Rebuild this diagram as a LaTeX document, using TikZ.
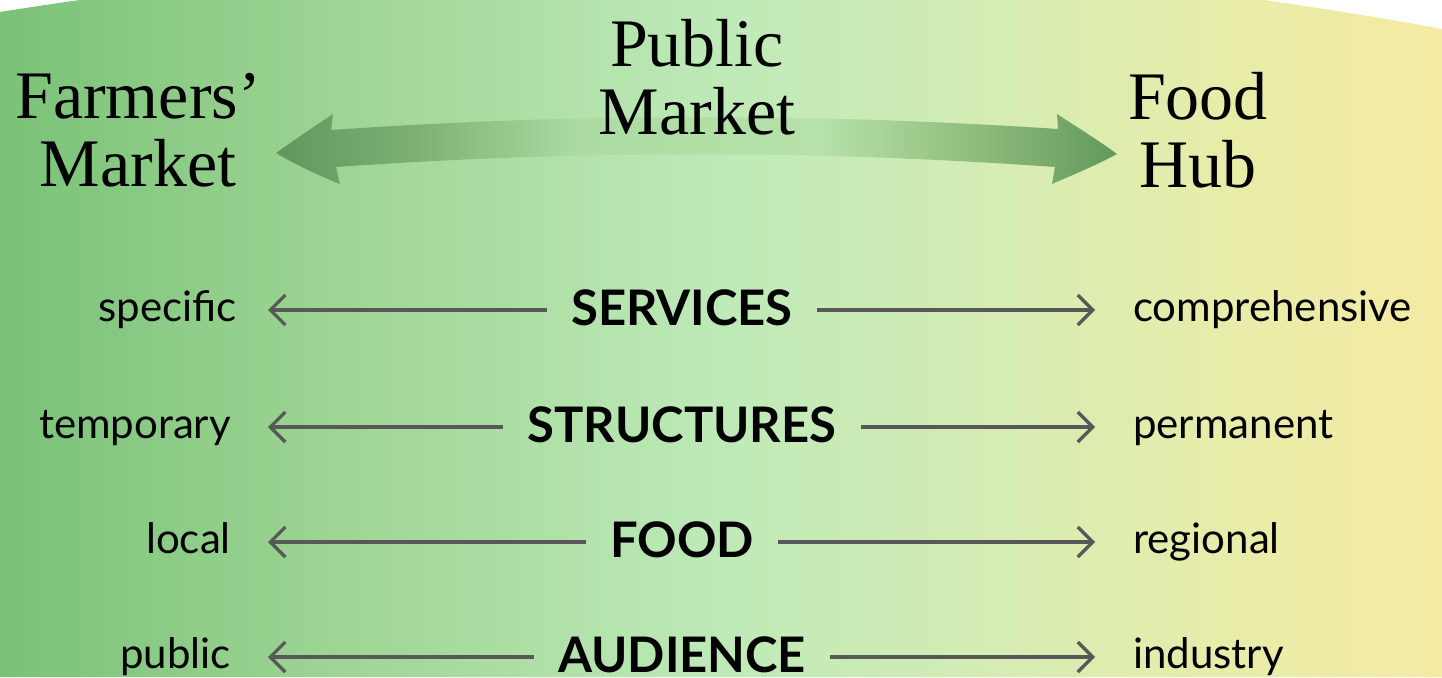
\documentclass[tikz,border=0pt]{standalone}
\usepackage{fontspec}
\setmainfont{Liberation Serif}
\newfontfamily\labelfont{Lato}
\usetikzlibrary{arrows.meta}

\definecolor{bgA}{RGB}{122,194,120}
\definecolor{bgB}{RGB}{160,214,150}
\definecolor{bgC}{RGB}{190,234,184}
\definecolor{bgD}{RGB}{214,236,180}
\definecolor{bgE}{RGB}{230,236,170}
\definecolor{bgF}{RGB}{245,235,163}
\definecolor{arA}{RGB}{94,150,94}
\definecolor{arB}{RGB}{125,178,115}
\definecolor{arC}{RGB}{172,220,162}
\definecolor{arD}{RGB}{182,226,170}
\definecolor{arE}{RGB}{150,195,130}
\definecolor{arF}{RGB}{98,152,92}
\definecolor{lineGray}{RGB}{88,88,88}

\begin{document}
\begin{tikzpicture}[x=1pt,y=-1pt,
  title/.style={font=\fontsize{68}{68}\selectfont,align=center,anchor=base,inner sep=0pt},
  side/.style={font=\labelfont\fontsize{42}{42}\selectfont,text height=22pt,text depth=0pt,inner sep=0pt},
  topic/.style={font=\labelfont\bfseries\fontsize{49}{49}\selectfont,text height=30pt,text depth=0pt,inner xsep=24pt,inner ysep=0pt},
  spread/.style={draw=lineGray,line width=3.2pt,-{Straight Barb[length=15pt,width=30pt]}}]
\useasboundingbox (0,0) rectangle (1442,677);

% background with arched top
\begin{scope}
\clip (0,677) -- (0,12) .. controls (481.5,-64.8) and (962.2,-59.1) .. (1442,29) -- (1442,677) -- cycle;
\shade[left color=bgA,right color=bgB] (0,-80) rectangle (361,680);
\shade[left color=bgB,right color=bgC] (360,-80) rectangle (721,680);
\shade[left color=bgC,right color=bgD] (720,-80) rectangle (1001,680);
\shade[left color=bgD,right color=bgE] (1000,-80) rectangle (1201,680);
\shade[left color=bgE,right color=bgF] (1200,-80) rectangle (1442,680);
\end{scope}

% big curved double arrow
\begin{scope}
\clip (276,153) .. controls (300,136) and (318,124) .. (333,114) -- (331,130)
  .. controls (575,113) and (817,113) .. (1058,129) -- (1057,114)
  .. controls (1075,126) and (1095,138) .. (1117,154)
  .. controls (1095,166) and (1070,176) .. (1052,184) -- (1055,167)
  .. controls (816,150) and (577,150) .. (336,167) -- (340,184)
  .. controls (320,176) and (298,166) .. (276,153) -- cycle;
\shade[left color=arA,right color=arB] (270,100) rectangle (421,200);
\shade[left color=arB,right color=arC] (420,100) rectangle (581,200);
\shade[left color=arC,right color=arD] (580,100) rectangle (821,200);
\shade[left color=arD,right color=arE] (820,100) rectangle (951,200);
\shade[left color=arE,right color=arF] (950,100) rectangle (1120,200);
\end{scope}

\node[title] (fm) at (138,186) {Farmers’\\Market};
\node[title] (pm) at (697,134) {Public\\Market};
\node[title] (fh) at (1198,187) {Food\\Hub};

\coordinate (tipL) at (268,0);
\coordinate (tipR) at (1095,0);

\node[side,anchor=east] (spec) at (237,310) {specific};
\node[topic] (svc) at (682,310) {SERVICES};
\node[side,anchor=west] (comp) at (1133,310) {comprehensive};
\draw[spread] (svc.west) -- (svc.west -| tipL);
\draw[spread] (svc.east) -- (svc.east -| tipR);

\node[side,anchor=east] (temp) at (231,427) {temporary};
\node[topic] (str) at (682,427) {STRUCTURES};
\node[side,anchor=west] (perm) at (1133,427) {permanent};
\draw[spread] (str.west) -- (str.west -| tipL);
\draw[spread] (str.east) -- (str.east -| tipR);

\node[side,anchor=east] (loc) at (231,542) {local};
\node[topic] (food) at (682,542) {FOOD};
\node[side,anchor=west] (reg) at (1133,542) {regional};
\draw[spread] (food.west) -- (food.west -| tipL);
\draw[spread] (food.east) -- (food.east -| tipR);

\node[side,anchor=east] (pub) at (231,657) {public};
\node[topic] (aud) at (682,657) {AUDIENCE};
\node[side,anchor=west] (ind) at (1133,657) {industry};
\draw[spread] (aud.west) -- (aud.west -| tipL);
\draw[spread] (aud.east) -- (aud.east -| tipR);
\end{tikzpicture}
\end{document}
